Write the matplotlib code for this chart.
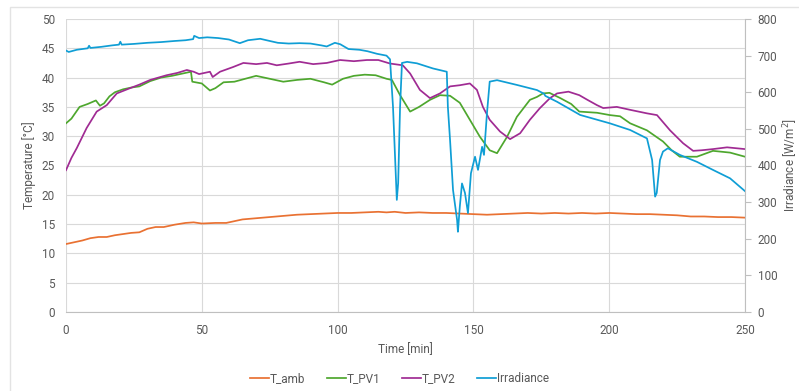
import matplotlib
matplotlib.use("Agg")
import matplotlib.pyplot as plt
from matplotlib.patches import Rectangle

plt.rcParams['font.family'] = ['Roboto', 'DejaVu Sans']

# T_amb [°C]
amb_t = [0, 3, 6, 9, 12, 15, 18, 21, 24, 27, 30, 33, 36, 40, 44, 47, 50, 55, 59, 62,
         65, 70, 75, 80, 85, 90, 95, 100, 105, 110, 115, 118, 121, 125, 130, 135, 140, 145, 150, 155,
         160, 165, 170, 175, 180, 185, 190, 195, 200, 205, 210, 215, 220, 225, 230, 235, 240, 245, 250]
amb_v = [11.6, 11.9, 12.2, 12.6, 12.8, 12.8, 13.1, 13.3, 13.5, 13.6, 14.2, 14.5, 14.5, 14.9, 15.2, 15.3, 15.1, 15.2, 15.2, 15.5,
         15.8, 16.0, 16.2, 16.4, 16.6, 16.7, 16.8, 16.9, 16.9, 17.0, 17.1, 17.0, 17.1, 16.9, 17.0, 16.9, 16.9, 16.8, 16.7, 16.6,
         16.7, 16.8, 16.9, 16.8, 16.9, 16.8, 16.9, 16.8, 16.9, 16.8, 16.7, 16.7, 16.6, 16.5, 16.3, 16.3, 16.2, 16.2, 16.1]

# T_PV1 [°C]
pv1_t = [0, 2, 5, 8, 11, 12.5, 14, 16, 18, 21, 24, 27, 31, 35, 39, 43, 46, 46.5, 50, 53,
         55, 58, 62, 66, 70, 75, 80, 85, 90, 95, 98, 102, 106, 110, 114, 118, 120, 123, 126.7, 130,
         134, 137.7, 141.4, 145, 148.7, 152.4, 156, 158.7, 162.4, 166, 170.8, 173.4, 175.6, 178, 182,
         186, 189, 195.5, 200.3, 204, 207.7, 213.9, 219.8, 223, 226, 232.3, 238.2, 244.5, 250]
pv1_v = [32.2, 33.0, 35.0, 35.5, 36.1, 35.2, 35.6, 36.8, 37.5, 38.0, 38.3, 38.5, 39.4, 40.0, 40.3, 40.7, 41.0, 39.3, 39.0, 37.8,
         38.2, 39.2, 39.3, 39.8, 40.3, 39.8, 39.3, 39.6, 39.8, 39.2, 38.8, 39.8, 40.3, 40.5, 40.4, 39.8, 39.6, 37.0, 34.2, 35.0,
         36.2, 37.0, 36.9, 35.7, 32.8, 29.9, 27.6, 27.1, 29.9, 33.3, 36.2, 36.7, 37.3, 37.4, 36.5,
         35.5, 34.2, 34.0, 33.6, 33.4, 32.2, 31.0, 29.1, 27.6, 26.5, 26.5, 27.5, 27.2, 26.5]

# T_PV2 [°C]
pv2_t = [0, 2, 4, 7.6, 11.3, 15, 18.7, 23.6, 27, 31, 37, 41, 44.5, 47, 49, 53, 54, 56.7, 61.5, 65.3,
         70, 74, 77.6, 82, 86, 91, 96, 100.9, 106, 110.8, 115, 119.3, 124, 126.7, 130.3, 134, 137.7, 141.4, 145, 148.7,
         151.3, 153.5, 156, 159.8, 163.5, 167.2, 170.8, 174.5, 178.2, 180.8, 185, 189, 192, 195.5, 197.8,
         202.8, 207.7, 213.9, 217.6, 222.4, 227.2, 230.9, 234, 238.2, 243.4, 250]
pv2_v = [24.2, 26.3, 28.0, 31.4, 34.2, 35.3, 37.3, 38.2, 38.8, 39.6, 40.4, 40.8, 41.3, 41.0, 40.6, 41.0, 40.1, 41.0, 41.8, 42.5,
         42.3, 42.5, 42.1, 42.4, 42.7, 42.3, 42.5, 43.0, 42.8, 43.0, 43.0, 42.4, 42.1, 40.7, 37.9, 36.5, 37.3, 38.5, 38.7, 39.0,
         37.9, 35.0, 32.8, 30.8, 29.5, 30.5, 32.8, 34.8, 36.5, 37.3, 37.6, 37.0, 36.2, 35.3, 34.8,
         35.0, 34.5, 33.9, 33.6, 31.0, 28.8, 27.5, 27.6, 27.8, 28.1, 27.8]

# Irradiance [W/m2]
irr_t = [0, 1, 4, 8, 8.5, 9, 13, 17, 19.5, 20, 20.5, 25, 30, 35, 40, 44, 46.8, 47.2, 49, 52,
         56, 60, 64, 67, 71.5, 75, 78, 82, 86, 90, 94, 96, 99, 101, 104, 108, 111, 114.5, 118, 119.3,
         120.4, 121.8, 122.3, 123, 123.7, 125.6, 129.2, 135.1, 140.2, 140.6, 141.4, 142.5, 144, 144.3, 145,
         145.8, 146.9, 148, 149.1, 150.6, 151.7, 153.2, 153.9, 155, 156, 158.7, 166, 173.4, 176, 176.5,
         180.8, 189.3, 200.3, 207.7, 213.9, 215.8, 216.9, 217.5, 218.7, 219.8, 221.6, 226, 232.3, 238.2, 244.5, 250]
irr_v = [714, 710, 716, 720, 727, 721, 724, 728, 730, 738, 730, 732, 735, 737, 740, 742, 745, 754, 748, 750,
         748, 744, 734, 742, 746, 740, 735, 733, 734, 733, 728, 725, 735, 731, 718, 716, 712, 705, 700, 690,
         560, 306, 352, 560, 680, 683, 679, 665, 656, 560, 470, 333, 251, 219, 288,
         351, 325, 270, 379, 424, 388, 451, 429, 543, 629, 633, 620, 606, 596, 590,
         574, 538, 515, 497, 474, 415, 315, 325, 415, 438, 447, 429, 410, 388, 365, 330]

c_amb, c_pv1, c_pv2, c_irr = '#E97132', '#4EA72E', '#A02B93', '#0F9ED5'
txt = '#595959'
grid = '#D9D9D9'

fig = plt.figure(figsize=(7.99, 3.91), dpi=100)
ax = fig.add_axes([66 / 799, 1 - 312 / 391, 679 / 799, 293 / 391])
ax2 = ax.twinx()

lw = 1.25
l1, = ax.plot(amb_t, amb_v, color=c_amb, lw=lw, label='T_amb')
l2, = ax.plot(pv1_t, pv1_v, color=c_pv1, lw=lw, label='T_PV1')
l3, = ax.plot(pv2_t, pv2_v, color=c_pv2, lw=lw, label='T_PV2')
l4, = ax2.plot(irr_t, irr_v, color=c_irr, lw=lw, label='Irradiance')

ax.set_xlim(0, 250)
ax.set_ylim(0, 50)
ax2.set_ylim(0, 800)
ax.set_xticks(range(0, 251, 50))
ax.set_yticks(range(0, 51, 5))
ax2.set_yticks(range(0, 801, 100))

ax.grid(True, color=grid, lw=0.8)
ax.set_axisbelow(True)
for s in ['top', 'right', 'left']:
    ax.spines[s].set_visible(False)
for s in ['top', 'left', 'bottom']:
    ax2.spines[s].set_visible(False)
ax.spines['bottom'].set_color('#BFBFBF')
ax2.spines['right'].set_color('#BFBFBF')

ax.tick_params(axis='both', length=0, colors=txt, labelsize=8.5)
ax.tick_params(axis='y', pad=8)
ax.tick_params(axis='x', pad=9)
ax2.tick_params(axis='y', length=4, color='#BFBFBF', labelcolor=txt, labelsize=8.5, pad=5)

ax.set_xlabel('Time [min]', color=txt, fontsize=8.5)
ax.xaxis.set_label_coords(0.5, -0.105)
ax.set_ylabel('Temperature [°C]', color=txt, fontsize=8.5)
ax.yaxis.set_label_coords(-0.044, 0.5)
ax2.set_ylabel('Irradiance [W/m$^2$]', color=txt, fontsize=8.5)
ax2.yaxis.set_label_coords(1.054, 0.5)

fig.legend(handles=[l1, l2, l3, l4], loc='center', bbox_to_anchor=(0.5, 1 - 379 / 391),
           ncol=4, frameon=False, fontsize=8.5, handlelength=1.6, handletextpad=0.1,
           columnspacing=1.8, labelcolor=txt)

# light chart-area border
fig.add_artist(Rectangle((10 / 799, -0.1), 1.2, 1.1 - 7 / 391,
                         transform=fig.transFigure, fill=False, edgecolor='#E3E3E3', lw=1))

fig.savefig('out.png', dpi=100)
